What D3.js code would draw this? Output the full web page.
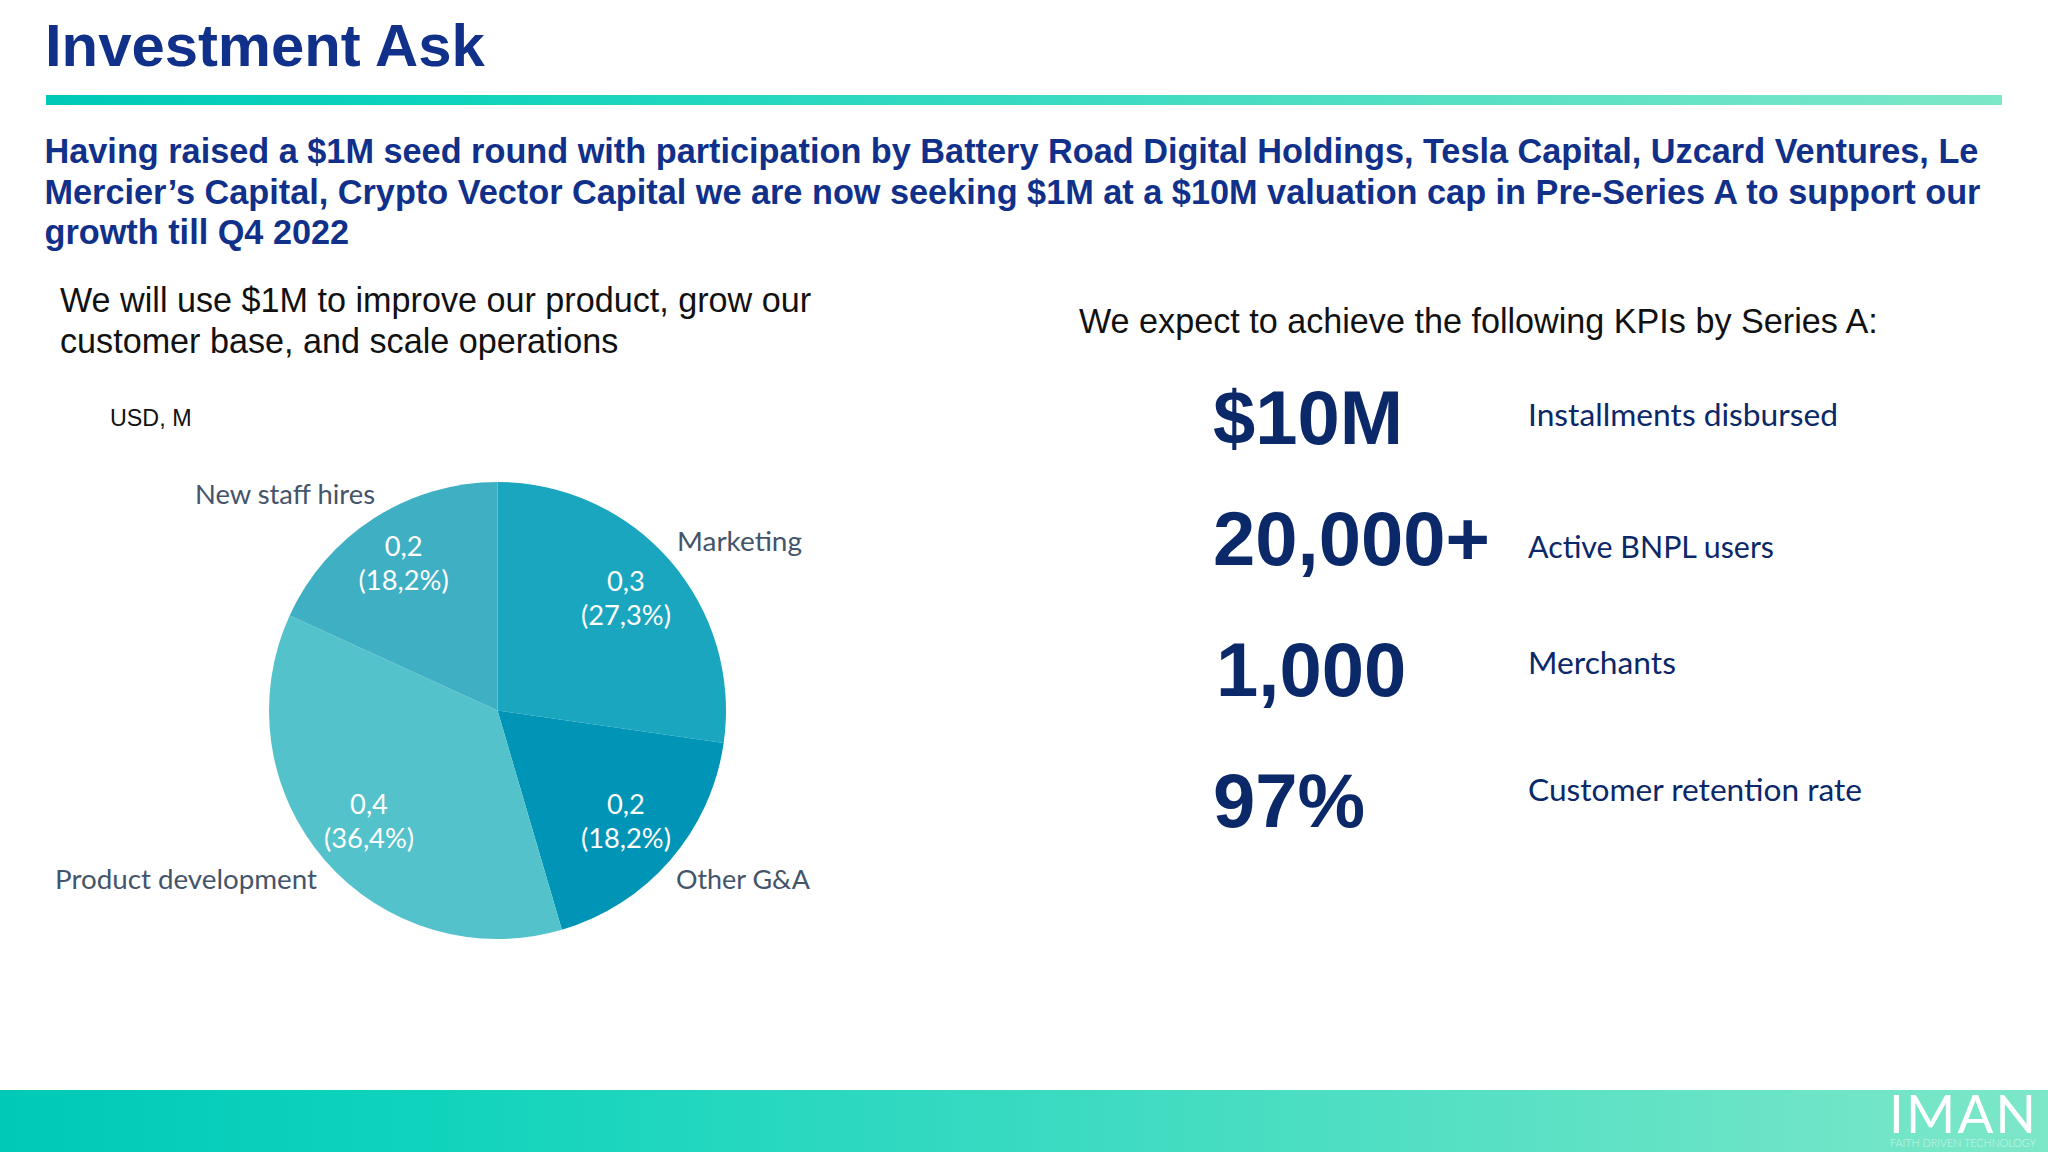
<!DOCTYPE html>
<html>
<head>
<meta charset="utf-8">
<script src="https://cdn.jsdelivr.net/npm/d3@7"></script>
<style>
  html, body { margin: 0; padding: 0; background: #fff; }
  svg { display: block; }
  .arial { font-family: "Liberation Sans", Arial, sans-serif; }
  .lato { font-family: Lato, "Open Sans", sans-serif; }
</style>
</head>
<body>
<svg id="chart" width="2048" height="1152"></svg>
<script>
const titleText = "Investment Ask";
const headlineLines = [
  "Having raised a $1M seed round with participation by Battery Road Digital Holdings, Tesla Capital, Uzcard Ventures, Le",
  "Mercier’s Capital, Crypto Vector Capital we are now seeking $1M at a $10M valuation cap in Pre-Series A to support our",
  "growth till Q4 2022",
];
const useOfFundsLines = [
  "We will use $1M to improve our product, grow our",
  "customer base, and scale operations",
];
const kpiIntro = "We expect to achieve the following KPIs by Series A:";
const unitLabel = "USD, M";

// pie, clockwise from 12 o'clock
const categories = ["Marketing", "Other G&A", "Product development", "New staff hires"];
const values = [0.3, 0.2, 0.4, 0.2];
const valueLabels = ["0,3", "0,2", "0,4", "0,2"];
const percentLabels = ["(27,3%)", "(18,2%)", "(36,4%)", "(18,2%)"];
const sliceColors = ["#1aa6be", "#0095b6", "#53c2cb", "#3fafc4"];

const kpiValues = ["$10M", "20,000+", "1,000", "97%"];
const kpiLabels = ["Installments disbursed", "Active BNPL users", "Merchants", "Customer retention rate"];

const logoText = "IMAN";
const logoTagline = "FAITH DRIVEN TECHNOLOGY";

const navy = "#10308a";
const kpiNavy = "#0b2868";
const labelGrey = "#44546a";

const svg = d3.select("#chart");

const grad = svg.append("defs").append("linearGradient")
  .attr("id", "band").attr("x1", "0%").attr("x2", "100%");
grad.append("stop").attr("offset", "0%").attr("stop-color", "#00c9b7");
grad.append("stop").attr("offset", "20%").attr("stop-color", "#0fd3bd");
grad.append("stop").attr("offset", "100%").attr("stop-color", "#7de7c8");

function addText(x, y, str, cls, size, color, weight) {
  return svg.append("text")
    .attr("class", cls)
    .attr("x", x).attr("y", y)
    .attr("font-size", size)
    .attr("font-weight", weight || "normal")
    .attr("fill", color)
    .text(str);
}

// header
addText(45, 66, titleText, "arial", 59.8, navy, "bold");
svg.append("rect").attr("x", 46).attr("y", 95).attr("width", 1956).attr("height", 10).attr("fill", "url(#band)");

const headlineY = d3.scalePoint().domain(d3.range(headlineLines.length)).range([163, 244]);
headlineLines.forEach((line, i) => addText(44.5, headlineY(i), line, "arial", 34.27, navy, "bold"));

const useY = d3.scalePoint().domain(d3.range(useOfFundsLines.length)).range([312, 353]);
useOfFundsLines.forEach((line, i) => addText(60, useY(i), line, "arial", 34.17, "#111"));

addText(110, 426, unitLabel, "arial", 23.3, "#111");
addText(1079, 333, kpiIntro, "arial", 34.17, "#111");

// pie
const cx = 497.5, cy = 710.5, radius = 228.5;
const pie = d3.pie().sort(null).value((d) => d)(values);
const arc = d3.arc().innerRadius(0).outerRadius(radius);
const labelArc = d3.arc().innerRadius(170).outerRadius(170);

const pieGroup = svg.append("g").attr("transform", `translate(${cx},${cy})`);
pieGroup.selectAll("path")
  .data(pie)
  .join("path")
  .attr("d", arc)
  .attr("fill", (d, i) => sliceColors[i]);

// centroid labels, last one needs a nudge up to sit where the slide has it
const labelNudge = [[0, 0], [0, 0], [0, 0], [-2, -4]];
pie.forEach((d, i) => {
  const [lx, ly] = labelArc.centroid(d);
  const label = pieGroup.append("text")
    .attr("class", "lato")
    .attr("text-anchor", "middle")
    .attr("font-size", 27.3)
    .attr("fill", "#fff");
  const x = lx + labelNudge[i][0], y = ly + labelNudge[i][1];
  label.append("tspan").attr("x", x).attr("y", y - 8).text(valueLabels[i]);
  label.append("tspan").attr("x", x).attr("y", y + 26).text(percentLabels[i]);
});

// category labels sit outside the pie at hand-read spots
const categoryAnchors = [[677, 551], [676, 889], [55, 889], [195, 504]];
const categoryWidth = [125, 134, 262, 180];
categories.forEach((c, i) => {
  addText(categoryAnchors[i][0], categoryAnchors[i][1], c, "lato", 27.6, labelGrey)
    .attr("textLength", categoryWidth[i])
    .attr("lengthAdjust", "spacingAndGlyphs");
});

// KPIs
const kpiValueX = [1213, 1213, 1216, 1213];
const kpiValueY = [444, 565, 696, 827];
const kpiLabelY = [426, 558, 674, 801];
const kpiLabelWidth = [310, 246, 148, 334];
kpiValues.forEach((v, i) => addText(kpiValueX[i], kpiValueY[i], v, "arial", 76, kpiNavy, "bold"));
kpiLabels.forEach((l, i) => {
  addText(1528, kpiLabelY[i], l, "lato", 31.7, kpiNavy)
    .attr("textLength", kpiLabelWidth[i])
    .attr("lengthAdjust", "spacingAndGlyphs");
});

// footer
svg.append("rect").attr("x", 0).attr("y", 1090).attr("width", 2048).attr("height", 62).attr("fill", "url(#band)");
addText(1889, 1133, logoText, "lato", 53, "#fff", 400)
  .attr("textLength", 147).attr("lengthAdjust", "spacing");
addText(1890, 1147, logoTagline, "lato", 11, "#fff", 300)
  .attr("textLength", 146).attr("lengthAdjust", "spacingAndGlyphs")
  .attr("opacity", 0.6);
</script>
</body>
</html>
